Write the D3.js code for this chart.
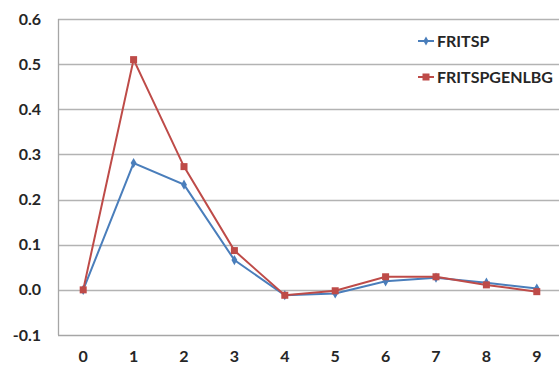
<!DOCTYPE html>
<html><head><meta charset="utf-8">
<script src="https://cdn.jsdelivr.net/npm/d3@7"></script>
<style>body{margin:0;background:#fff;}svg{display:block;}</style>
</head><body>
<svg id="c" width="559" height="369"></svg>
<script>
const categories = ["0","1","2","3","4","5","6","7","8","9"];
const fritsp = [0, 0.281, 0.233, 0.066, -0.012, -0.008, 0.019, 0.027, 0.016, 0.003];
const fritspgenlbg = [0, 0.510, 0.273, 0.087, -0.012, -0.002, 0.029, 0.029, 0.011, -0.004];
const yTicks = [-0.1, 0, 0.1, 0.2, 0.3, 0.4, 0.5, 0.6];
const seriesNames = ["FRITSP", "FRITSPGENLBG"];
const colors = ["#4a7ebb", "#be4b48"];

const svg = d3.select("#c");
const x = d3.scaleBand().domain(categories).range([58, 562]);
const y = d3.scaleLinear().domain([-0.1, 0.6]).range([335, 19]);
const font = "Lato, 'Open Sans', sans-serif";
const textColor = "#262626";
const fs = 16;
const fmt = d3.formatLocale({decimal: ".", thousands: ",", grouping: [3], currency: ["", ""], minus: "-"}).format(".1f");

// gridlines
svg.append("g").selectAll("line").data(yTicks.filter(d => d > -0.1)).join("line")
  .attr("x1", 58).attr("x2", 562)
  .attr("y1", d => Math.round(y(d)) + 0.5).attr("y2", d => Math.round(y(d)) + 0.5)
  .attr("stroke", "#b3b3b3").attr("stroke-width", 1.3);

// axes lines
svg.append("line").attr("x1", 58.5).attr("x2", 58.5).attr("y1", y(0.6)).attr("y2", y(-0.1))
  .attr("stroke", "#a6a6a6").attr("stroke-width", 1.3);
svg.append("line").attr("x1", 58).attr("x2", 562).attr("y1", Math.round(y(-0.1)) + 0.5).attr("y2", Math.round(y(-0.1)) + 0.5)
  .attr("stroke", "#a6a6a6").attr("stroke-width", 1.3);

// y labels
svg.append("g").selectAll("text").data(yTicks).join("text")
  .attr("x", 41).attr("y", d => y(d)).attr("dy", "0.35em")
  .attr("text-anchor", "end").attr("font-family", font).attr("font-weight", "bold")
  .attr("font-size", fs).attr("fill", textColor)
  .text(d => fmt(d));

// x labels
svg.append("g").selectAll("text").data(categories).join("text")
  .attr("x", d => x(d) + x.bandwidth() / 2).attr("y", 356).attr("dy", "0.35em")
  .attr("text-anchor", "middle").attr("font-family", font).attr("font-weight", "bold")
  .attr("font-size", fs).attr("fill", textColor)
  .text(d => d);

const cx = (d, i) => x(categories[i]) + x.bandwidth() / 2;
const line = d3.line().x((d, i) => cx(d, i)).y(d => y(d));

const series = [fritsp, fritspgenlbg];
series.forEach((vals, s) => {
  svg.append("path").datum(vals).attr("d", line).attr("fill", "none")
    .attr("stroke", colors[s]).attr("stroke-width", 2);
  const g = svg.append("g");
  if (s === 0) {
    g.selectAll("path").data(vals).join("path")
      .attr("d", d3.symbol(d3.symbolDiamond, 30))
      .attr("transform", (d, i) => `translate(${cx(d, i)},${y(d)})`)
      .attr("fill", colors[s]);
  } else {
    g.selectAll("rect").data(vals).join("rect")
      .attr("x", (d, i) => cx(d, i) - 3.5).attr("y", d => y(d) - 3.5)
      .attr("width", 7).attr("height", 7).attr("fill", colors[s]);
  }
});

// legend
const legendY = [41, 77];
seriesNames.forEach((name, s) => {
  const g = svg.append("g");
  g.append("line").attr("x1", 418).attr("x2", 434).attr("y1", legendY[s]).attr("y2", legendY[s])
    .attr("stroke", colors[s]).attr("stroke-width", 2);
  if (s === 0) {
    g.append("path").attr("d", d3.symbol(d3.symbolDiamond, 24))
      .attr("transform", `translate(426,${legendY[s]})`).attr("fill", colors[s]);
  } else {
    g.append("rect").attr("x", 422.5).attr("y", legendY[s] - 3.5).attr("width", 7).attr("height", 7)
      .attr("fill", colors[s]);
  }
  g.append("text").attr("x", 437).attr("y", legendY[s]).attr("dy", "0.35em")
    .attr("font-family", font).attr("font-weight", "bold").attr("font-size", fs)
    .attr("fill", textColor).text(name);
});
</script>
</body></html>
